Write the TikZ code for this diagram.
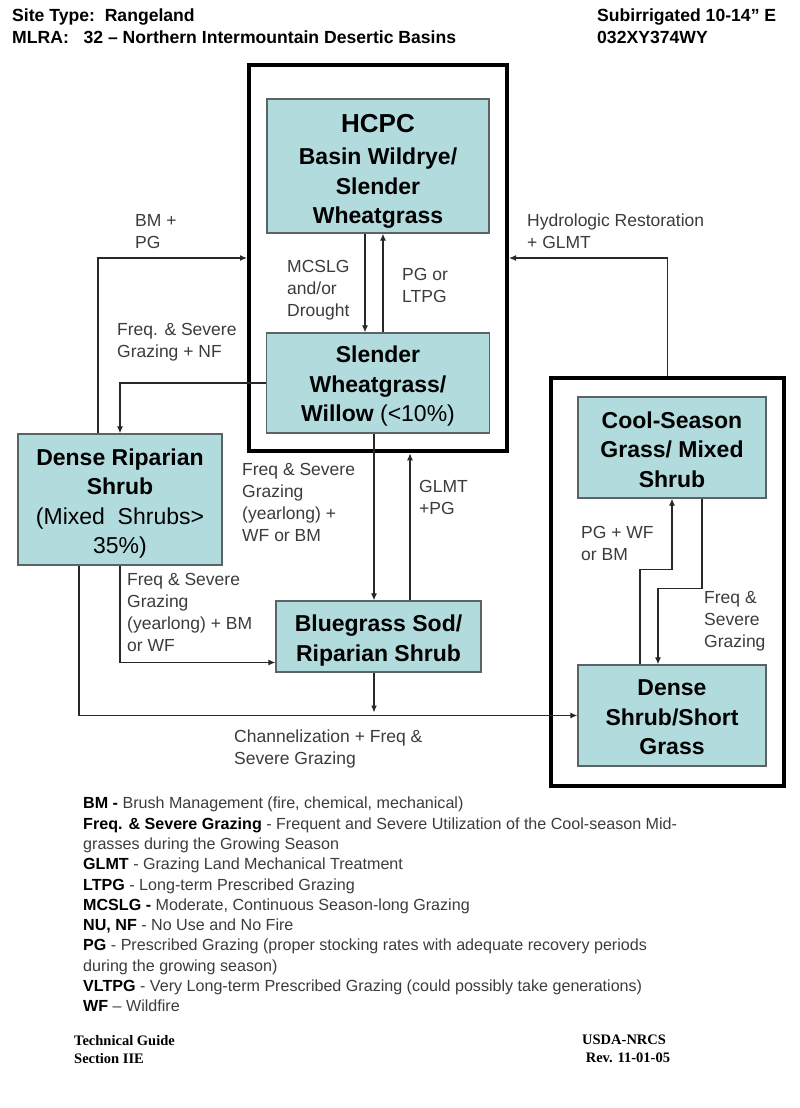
\documentclass[tikz,border=0pt]{standalone}
\usepackage{fontspec}
\setmainfont{Liberation Sans}
\newfontfamily\serifb{Liberation Serif}
\usetikzlibrary{arrows.meta,calc}
\definecolor{boxfill}{RGB}{178,219,222}
\definecolor{boxline}{RGB}{90,100,100}
\definecolor{labc}{RGB}{60,60,60}
\definecolor{linec}{RGB}{40,40,40}
\begin{document}
\begin{tikzpicture}[x=1pt,y=-1pt,
  state/.style={draw=boxline,line width=1.3pt,fill=boxfill,inner sep=0pt},
  boxtext/.style={align=center,inner sep=0pt,font=\fontsize{23}{29.5}\selectfont\bfseries},
  frame/.style={draw=black,line width=4pt,inner sep=0pt},
  arr/.style={draw=linec,line width=1.2pt,-{Latex[length=7pt,width=6pt]}},
  lab/.style={anchor=north west,align=left,inner sep=0pt,text=labc,font=\fontsize{17.5}{22}\selectfont},
  hdr/.style={anchor=north west,align=left,inner sep=0pt,font=\fontsize{17.6}{22}\selectfont\bfseries},
  legend/.style={anchor=north west,align=left,inner sep=0pt,text=labc,font=\fontsize{16.1}{20.3}\selectfont},
  foot/.style={anchor=north west,align=left,inner sep=0pt,font=\fontsize{14.5}{18}\selectfont\serifb\bfseries}]
\fill[white] (0,0) rectangle (800,1108);
\useasboundingbox (0,0) rectangle (800,1108);

% header
\node[hdr] (h1) at (12,9) {Site Type:\ \ Rangeland\\MLRA:\ \ \ 32 – Northern Intermountain Desertic Basins};
\node[hdr] (h2) at (597,9) {Subirrigated 10-14” E\\032XY374WY};

% frames
\node[frame,minimum width=258pt,minimum height=386.5pt] (outerA) at (378,258) {};
\node[frame,minimum width=233pt,minimum height=408.5pt] (outerB) at (667.5,581.75) {};

% states
\node[state,minimum width=222pt,minimum height=134pt] (hcpc) at (378,166) {};
\node[boxtext] (hcpct) at ([yshift=-5.5pt]hcpc.center)
  {{\fontsize{26}{30}\selectfont HCPC}\\[2.5pt]Basin Wildrye/\\Slender\\Wheatgrass};
\node[state,minimum width=223pt,minimum height=100pt] (sw) at (378,383) {};
\node[boxtext] (swt) at ([yshift=-3.5pt]sw.center)
  {Slender\\Wheatgrass/\\Willow {\mdseries (<10\%)}};
\node[state,minimum width=204pt,minimum height=131pt] (dr) at (120,499.5) {};
\node[boxtext] (drt) at ([yshift=-4pt]dr.center)
  {Dense Riparian\\Shrub\\{\mdseries (Mixed\ \ Shrubs>}\\{\mdseries 35\%)}};
\node[state,minimum width=188pt,minimum height=101pt] (cool) at (672,447.5) {};
\node[boxtext] (coolt) at ([yshift=-2pt]cool.center)
  {Cool-Season\\Grass/ Mixed\\Shrub};
\node[state,minimum width=205pt,minimum height=71pt] (blue) at (378.5,636.5) {};
\node[boxtext] (bluet) at ([yshift=-4pt]blue.center)
  {Bluegrass Sod/\\Riparian Shrub};
\node[state,minimum width=188pt,minimum height=101pt] (dense) at (672,715.5) {};
\node[boxtext] (denset) at ([yshift=-2pt]dense.center)
  {Dense\\Shrub/Short\\Grass};

% connectors
\draw[arr] ([xshift=-22pt]dr.north) |- (outerA.west);
\draw[arr] (outerB.north) |- (outerA.east);
\draw[arr] ([xshift=-13pt]hcpc.south) -- ([xshift=-13pt]sw.north);
\draw[arr] ([xshift=5pt]sw.north) -- ([xshift=5pt]hcpc.south);
\draw[arr] (sw.west) -| (dr.north);
\draw[arr] ([xshift=-4pt]sw.south) -- ([xshift=-4pt]sw.south |- blue.north);
\draw[arr] ([xshift=31.5pt]blue.north) -- ([xshift=31.5pt]blue.north |- outerA.south);
\draw[arr] (dr.south) |- ([yshift=-26pt]blue.west);
\draw[arr] ([xshift=-41pt]dr.south) |- (dense.west);
\draw[arr,shorten >=3pt] ([xshift=-4.5pt]blue.south) -- ([xshift=-4.5pt]blue.south |- dense.west);
\draw[arr] ([xshift=-32pt]dense.north) -- ++(0,-95) -| (cool.south);
\draw[arr] ([xshift=30pt]cool.south) -- ++(0,90) -| ([xshift=-14pt]dense.north);

% labels
\node[lab] (l1) at (135,214) {BM +\\PG};
\node[lab] (l2) at (527,214) {Hydrologic Restoration\\+ GLMT};
\node[lab] (l3) at (287,260) {MCSLG\\and/or\\Drought};
\node[lab] (l4) at (402,268) {PG or\\LTPG};
\node[lab] (l5) at (117,323) {Freq. \& Severe\\Grazing + NF};
\node[lab] (l6) at (242,463) {Freq \& Severe\\Grazing\\(yearlong) +\\WF or BM};
\node[lab] (l7) at (419,480) {GLMT\\+PG};
\node[lab] (l8) at (127,573) {Freq \& Severe\\Grazing\\(yearlong) + BM\\or WF};
\node[lab] (l9) at (234,730) {Channelization + Freq \&\\Severe Grazing};
\node[lab] (l10) at (581,526) {PG + WF\\or BM};
\node[lab] (l11) at (704,591) {Freq \&\\Severe\\Grazing};

% legend
\node[legend] (leg) at (83,797) {%
\textcolor{black}{\bfseries BM -} Brush Management (fire, chemical, mechanical)\\
\textcolor{black}{\bfseries Freq. \& Severe Grazing} - Frequent and Severe Utilization of the Cool-season Mid-\\
grasses during the Growing Season\\
\textcolor{black}{\bfseries GLMT} - Grazing Land Mechanical Treatment\\
\textcolor{black}{\bfseries LTPG} - Long-term Prescribed Grazing\\
\textcolor{black}{\bfseries MCSLG -} Moderate, Continuous Season-long Grazing\\
\textcolor{black}{\bfseries NU, NF} - No Use and No Fire\\
\textcolor{black}{\bfseries PG} - Prescribed Grazing (proper stocking rates with adequate recovery periods\\
during the growing season)\\
\textcolor{black}{\bfseries VLTPG} - Very Long-term Prescribed Grazing (could possibly take generations)\\
\textcolor{black}{\bfseries WF} – Wildfire};

% footer
\node[foot] (f1) at (74,1035) {Technical Guide\\Section IIE};
\node[foot] (f2) at (582,1035) {USDA-NRCS\\\ Rev. 11-01-05};
\end{tikzpicture}
\end{document}
